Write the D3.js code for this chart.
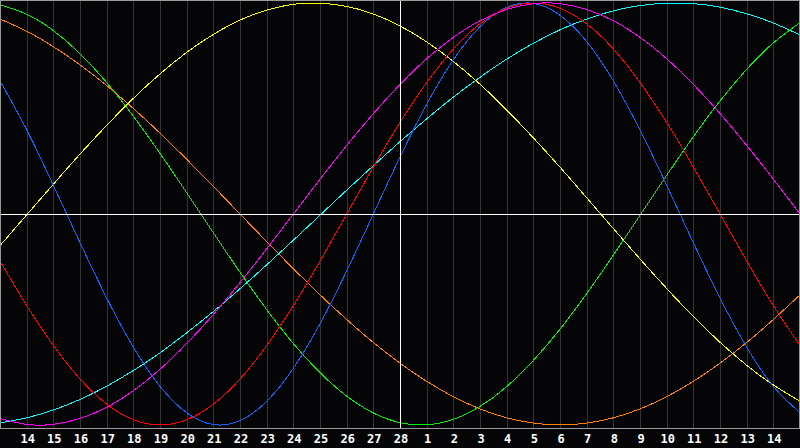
<!DOCTYPE html>
<html>
<head>
<meta charset="utf-8">
<script src="https://cdn.jsdelivr.net/npm/d3@7"></script>
<style>
  html, body { margin: 0; padding: 0; background: #050508; }
  svg { display: block; }
  .grid line { stroke: #343434; stroke-width: 1; shape-rendering: crispEdges; }
  .series path { fill: none; stroke-width: 1; shape-rendering: crispEdges; }
  .labels text { fill: #fff; font: bold 12px "DejaVu Sans Mono", monospace; text-anchor: middle; }
</style>
</head>
<body>
<div id="chart"></div>
<script>
// day offsets relative to the marked day (28), one sample per day
const days = d3.range(-15, 16);
const dayLabels = [14, 15, 16, 17, 18, 19, 20, 21, 22, 23, 24, 25, 26, 27, 28,
                   1, 2, 3, 4, 5, 6, 7, 8, 9, 10, 11, 12, 13, 14];
const labelOffsets = d3.range(-14, 15);

// values, -1..1, at each day from -15 to 15
const yellow = [-0.150, -0.004, 0.141, 0.284, 0.420, 0.548, 0.664, 0.766, 0.851, 0.919, 0.966, 0.994, 0.999, 0.984, 0.948,
                0.891, 0.816, 0.723, 0.615, 0.493, 0.361, 0.222, 0.077, -0.069, -0.213, -0.353, -0.486, -0.608, -0.717, -0.810, -0.887];
const green = [0.991, 0.947, 0.869, 0.759, 0.623, 0.463, 0.287, 0.101, -0.089, -0.276, -0.453, -0.614, -0.752, -0.863, -0.943,
               -0.989, -0.999, -0.973, -0.912, -0.818, -0.694, -0.546, -0.377, -0.195, -0.006, 0.184, 0.366, 0.536, 0.686, 0.811, 0.907];
const orange = [0.924, 0.866, 0.793, 0.707, 0.609, 0.500, 0.383, 0.259, 0.131, 0.000, -0.131, -0.259, -0.383, -0.500, -0.609,
                -0.707, -0.793, -0.866, -0.924, -0.966, -0.991, -1.000, -0.991, -0.966, -0.924, -0.866, -0.793, -0.707, -0.609, -0.500, -0.383];
const red = [-0.223, -0.434, -0.623, -0.782, -0.901, -0.975, -1.000, -0.975, -0.901, -0.782, -0.623, -0.434, -0.223, 0.000, 0.223,
             0.434, 0.623, 0.782, 0.901, 0.975, 1.000, 0.975, 0.901, 0.782, 0.623, 0.434, 0.223, 0.000, -0.223, -0.434, -0.623];
const blue = [0.631, 0.399, 0.136, -0.136, -0.398, -0.631, -0.817, -0.942, -0.998, -0.979, -0.888, -0.731, -0.520, -0.270, 0.000,
              0.270, 0.520, 0.731, 0.888, 0.979, 0.998, 0.942, 0.817, 0.631, 0.398, 0.136, -0.136, -0.398, -0.631, -0.817, -0.942];
const magenta = [-0.969, -0.997, -0.997, -0.969, -0.916, -0.837, -0.736, -0.614, -0.476, -0.325, -0.165, 0.000, 0.165, 0.325, 0.476,
                 0.614, 0.736, 0.837, 0.916, 0.969, 0.997, 0.997, 0.969, 0.916, 0.837, 0.736, 0.614, 0.476, 0.325, 0.165, 0.000];
const cyan = [-0.990, -0.966, -0.929, -0.879, -0.816, -0.742, -0.658, -0.563, -0.462, -0.354, -0.241, -0.124, -0.006, 0.113, 0.229,
              0.343, 0.451, 0.554, 0.648, 0.734, 0.809, 0.873, 0.924, 0.963, 0.988, 0.999, 0.997, 0.980, 0.949, 0.905, 0.849];

const seriesList = [
    {name: "orange", color: "#ff7f00", values: orange},
    {name: "green", color: "#00f000", values: green},
    {name: "yellow", color: "#ffff00", values: yellow},
    {name: "cyan", color: "#00ffff", values: cyan},
    {name: "blue", color: "#0a66ff", values: blue},
    {name: "red", color: "#ff0000", values: red},
    {name: "magenta", color: "#ff00ff", values: magenta}
];

const svgWidth = 800, svgHeight = 448;
const plotBottom = 428;

let x = d3.scaleLinear().domain([-15, 15]).range([0, svgWidth]),
    y = d3.scaleLinear().domain([-1, 1]).range([425, 3]);

let svg = d3.select("#chart").append("svg")
    .attr("width", svgWidth)
    .attr("height", svgHeight);

svg.append("rect")
    .attr("width", svgWidth)
    .attr("height", svgHeight)
    .attr("fill", "#050508");

//Day grid
svg.append("g")
    .attr("class", "grid")
    .selectAll("line")
    .data(labelOffsets.filter(d => d !== 0))
    .enter().append("line")
    .attr("x1", d => Math.round(x(d)) + 0.5)
    .attr("x2", d => Math.round(x(d)) + 0.5)
    .attr("y1", 0)
    .attr("y2", plotBottom);

//Curves
let line = d3.line()
    .x((v, i) => x(days[i]))
    .y(v => y(v))
    .curve(d3.curveNatural);

svg.append("g")
    .attr("class", "series")
    .selectAll("path")
    .data(seriesList)
    .enter().append("path")
    .attr("stroke", d => d.color)
    .attr("d", d => line(d.values));

//Centre cross
svg.append("line")
    .attr("x1", 0).attr("x2", svgWidth)
    .attr("y1", Math.round(y(0)) + 0.5).attr("y2", Math.round(y(0)) + 0.5)
    .attr("stroke", "#fff").attr("shape-rendering", "crispEdges");
svg.append("line")
    .attr("x1", x(0) + 0.5).attr("x2", x(0) + 0.5)
    .attr("y1", 0).attr("y2", plotBottom)
    .attr("stroke", "#fff").attr("shape-rendering", "crispEdges");

//Frame
svg.append("path")
    .attr("d", `M0.5,${plotBottom + 0.5}V0.5H${svgWidth - 0.5}V${plotBottom + 0.5}H0.5`)
    .attr("fill", "none")
    .attr("stroke", "#9a9a9a")
    .attr("shape-rendering", "crispEdges");

//Day labels
svg.append("g")
    .attr("class", "labels")
    .selectAll("text")
    .data(labelOffsets)
    .enter().append("text")
    .attr("x", d => x(d) + 1)
    .attr("y", 443)
    .text((d, i) => dayLabels[i]);
</script>
</body>
</html>
